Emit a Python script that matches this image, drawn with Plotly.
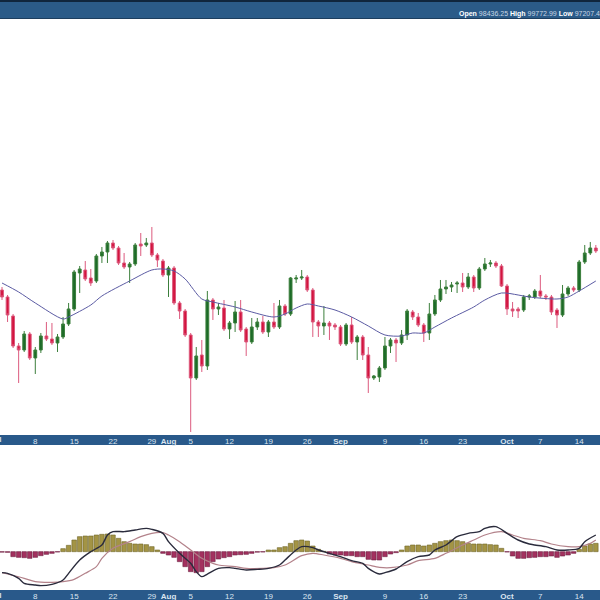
import pandas as pd
import plotly.graph_objects as go

# ---- data ----
start_date = "2024-07-02"
n_days = 108
dates = pd.date_range(start_date, periods=n_days, freq="D")

open_ = [63200, 62500, 60600, 57600, 57200, 58800, 56400, 57200, 58600, 58300,
         57900, 58500, 59800, 61300, 64900, 65200, 64400, 64100, 66600, 67000,
         67900, 67400, 65900, 65500, 65800, 67800, 67700, 67900, 66700, 66100,
         64700, 65400, 61900, 61100, 58700, 54400, 56700, 55600, 62200, 61300,
         61400, 59300, 59900, 61000, 59300, 58000, 59500, 60000, 59000, 60000,
         59500, 61600, 60800, 64300, 64400, 64500, 63200, 60000, 59600, 59900,
         59700, 59500, 57800, 59700, 58000, 58500, 56700, 54400, 54500, 55400,
         57600, 58200, 57900, 58700, 61000, 60500, 59700, 58900, 60800, 62200,
         63300, 63500, 63800, 63900, 63500, 64500, 63400, 65300, 65800, 65900,
         65600, 63600, 61300, 61300, 61200, 62500, 62500, 63100, 62600, 62500,
         61200, 60700, 62800, 63400, 63200, 66000, 66900, 67400]
high = [63500, 62700, 60800, 57900, 59100, 59000, 57500, 58900, 60000, 59900,
        58800, 60500, 61900, 65200, 65600, 66100, 65300, 66800, 67500, 68100,
        68200, 67600, 66900, 66000, 67900, 68900, 68400, 69500, 66900, 66300,
        65600, 65600, 62100, 61300, 58900, 57500, 58200, 63100, 62400, 61900,
        62200, 60100, 62100, 62200, 59500, 60400, 60400, 60600, 60200, 61900,
        62200, 61800, 64500, 64700, 65200, 64700, 63400, 60200, 61600, 60100,
        59900, 59700, 59900, 60500, 58700, 58700, 57500, 54700, 55600, 58500,
        58400, 58400, 59200, 61300, 61200, 60900, 59900, 61900, 62700, 64200,
        64200, 64000, 64100, 64900, 64900, 64700, 65500, 66400, 66200, 66100,
        65800, 63800, 62000, 61500, 62700, 62800, 63300, 64700, 62800, 62700,
        61400, 63700, 63600, 63600, 66200, 67700, 68000, 67700]
low = [62200, 60000, 57400, 53900, 57000, 56200, 54800, 56900, 58100, 57700,
       57000, 58300, 59600, 61100, 62900, 64100, 63600, 63900, 65900, 65900,
       67200, 65700, 65300, 63900, 65600, 66600, 67500, 66500, 65500, 64500,
       62500, 61700, 60300, 58500, 49000, 54200, 55000, 55200, 60200, 60700,
       59100, 58300, 59000, 59000, 56600, 57800, 59200, 58800, 58500, 59300,
       59300, 60600, 60600, 63900, 64200, 63000, 58500, 58500, 58700, 58200,
       59200, 57600, 57600, 57800, 56200, 56200, 52900, 54200, 54000, 55200,
       56900, 56000, 57700, 58200, 60200, 59500, 58000, 58200, 60600, 62000,
       62800, 63000, 62900, 63000, 63300, 63000, 63200, 65100, 65500, 65400,
       63500, 60700, 60500, 60400, 61000, 62200, 62300, 62400, 62200, 60700,
       59400, 60500, 62600, 63000, 63000, 65800, 66700, 66900]
close = [62500, 60700, 57600, 57200, 58800, 56400, 57200, 58600, 58300, 57900,
         58500, 59800, 61300, 65000, 65300, 64300, 63900, 66600, 67000, 67900,
         67400, 65900, 65500, 65800, 67700, 67600, 67900, 66700, 66200, 64700,
         65400, 61900, 61100, 58700, 54400, 56600, 55600, 62200, 61300, 61500,
         59300, 59900, 61000, 59200, 58000, 59500, 60000, 59000, 60000, 59500,
         61600, 60800, 64400, 64400, 64500, 63200, 60000, 59600, 59900, 59600,
         59500, 57800, 59700, 58000, 58500, 56700, 54400, 54600, 55400, 57600,
         58200, 57900, 58700, 61100, 60500, 59700, 58900, 60800, 62200, 63300,
         63500, 63700, 63900, 63500, 64500, 63400, 65300, 65800, 65900, 65600,
         63600, 61300, 61100, 61100, 62500, 62600, 63100, 62600, 62500, 61000,
         60700, 62800, 63400, 63200, 66000, 66900, 67400, 67100]

# 20-day moving average, read at a subset of days (day index, value)
ma_day = [0, 3, 6, 11, 12, 16, 18, 23, 27, 29, 31, 33, 36, 38, 42, 45, 49, 51,
          53, 55, 57, 60, 63, 66, 69, 72, 74, 76, 78, 81, 85, 87, 90, 93, 95,
          100, 102, 104, 107]
ma_val = [63900, 63000, 61900, 60300, 60500, 61700, 62600, 64100, 65200, 65300,
          65100, 64300, 62300, 62000, 61500, 61000, 60500, 60800, 61400, 61800,
          61600, 61200, 60500, 59600, 58700, 58600, 58900, 58900, 59500, 60400,
          61500, 62200, 62900, 62700, 62500, 62300, 62500, 63100, 64100]

# MACD line (day index, value)
macd_day = [0, 1, 3, 4, 6, 7, 9, 11, 12, 14, 16, 18, 19, 20, 22, 24, 26, 27, 29,
            30, 32, 34, 35, 36, 37, 39, 41, 42, 44, 46, 48, 50, 51, 53, 54, 56,
            57, 59, 61, 63, 65, 66, 68, 69, 71, 73, 75, 77, 78, 80, 82, 84, 86,
            87, 89, 91, 93, 95, 96, 98, 100, 102, 104, 105, 107]
macd_val = [-1260, -1300, -1600, -1900, -2000, -2040, -1960, -1700, -1300, -500,
            0, 400, 1000, 1200, 1200, 1300, 1400, 1340, 1100, 600, -100, -700,
            -1200, -1500, -1340, -1000, -960, -1000, -1100, -1060, -1000, -800,
            -500, 100, 300, 240, 100, -100, -300, -540, -700, -1000, -1340,
            -1260, -1040, -600, -300, -200, 100, 400, 900, 1100, 1200, 1400,
            1500, 1100, 700, 460, 400, 300, 100, 100, 200, 600, 1000]

# Signal line (day index, value)
sig_day = [0, 1, 4, 6, 9, 11, 13, 15, 17, 18, 20, 23, 25, 27, 29, 30, 32, 34,
           36, 38, 39, 42, 44, 47, 49, 51, 54, 56, 58, 61, 63, 66, 68, 70, 73,
           75, 78, 80, 83, 85, 87, 90, 92, 94, 97, 99, 102, 104, 106, 107]
sig_val = [-1260, -1340, -1600, -1800, -1840, -1800, -1660, -1300, -900, -400,
           200, 600, 900, 1100, 1140, 1000, 600, 100, -400, -700, -800, -900,
           -1000, -1000, -960, -800, -240, -100, -200, -400, -600, -800, -940,
           -960, -800, -540, -400, -100, 400, 700, 1000, 1200, 1000, 800, 660,
           460, 300, 300, 500, 700]

# MACD histogram, one per day
hist = [-30, -40, -300, -340, -360, -400, -340, -240, -160, -100,
        -20, 180, 380, 700, 900, 940, 940, 1000, 1040, 1060,
        1000, 800, 600, 500, 460, 460, 420, 300, 100, -100,
        -200, -340, -600, -900, -1200, -1260, -1200, -900, -600, -440,
        -360, -300, -200, -180, -160, -100, -30, -20, 100, 100,
        240, 300, 500, 660, 700, 640, 340, 140, 20, -140,
        -200, -200, -240, -240, -300, -300, -460, -500, -500, -300,
        -140, -60, 100, 340, 400, 400, 340, 400, 500, 600,
        660, 700, 660, 600, 500, 460, 460, 460, 420, 400,
        200, -20, -260, -400, -400, -360, -340, -300, -300, -260,
        -340, -260, -200, -100, 140, 340, 460, 500]

tick_dates = ["2024-07-08", "2024-07-15", "2024-07-22", "2024-07-29", "2024-08-01",
              "2024-08-05", "2024-08-12", "2024-08-19", "2024-08-26", "2024-09-01",
              "2024-09-09", "2024-09-16", "2024-09-23", "2024-10-01", "2024-10-07",
              "2024-10-14"]
tick_labels = ["8", "15", "22", "29", "<b>Aug</b>", "5", "12", "19", "26", "<b>Sep</b>",
               "9", "16", "23", "<b>Oct</b>", "7", "14"]
first_month_label = "<b>Jul</b>"

header_text = ("<b>Open</b> <span style='color:#c9d6e4'>98436.25</span> "
               "<b>High</b> <span style='color:#c9d6e4'>99772.99</span> "
               "<b>Low</b> <span style='color:#c9d6e4'>97207.42</span>")

# ---- figure ----
FONT = "Liberation Sans, Arial, sans-serif"
x_range = ["2024-07-01 15:20", "2024-10-17 18:00"]

fig = go.Figure()

fig.add_trace(go.Candlestick(
    x=dates, open=open_, high=high, low=low, close=close,
    increasing=dict(line=dict(color="#3c7f3c", width=1), fillcolor="#1c6b28"),
    decreasing=dict(line=dict(color="#dc5a7e", width=1), fillcolor="#d3143e"),
    whiskerwidth=0, xaxis="x", yaxis="y", showlegend=False, hoverinfo="skip",
))

fig.add_trace(go.Scatter(
    x=[dates[i] for i in ma_day], y=ma_val, mode="lines",
    line=dict(color="#5b5ba3", width=1, shape="spline", smoothing=0.8),
    xaxis="x", yaxis="y", showlegend=False, hoverinfo="skip",
))

fig.add_trace(go.Bar(
    x=dates, y=hist,
    marker=dict(color=["#a39445" if v >= 0 else "#a3315f" for v in hist],
                line=dict(color=["#6e6427" if v >= 0 else "#6d1e40" for v in hist],
                          width=0.6)),
    xaxis="x2", yaxis="y2", showlegend=False, hoverinfo="skip",
))

fig.add_trace(go.Scatter(
    x=[dates[i] for i in sig_day], y=sig_val, mode="lines",
    line=dict(color="#b3828a", width=1.2, shape="spline", smoothing=0.8),
    xaxis="x2", yaxis="y2", showlegend=False, hoverinfo="skip",
))
fig.add_trace(go.Scatter(
    x=[dates[i] for i in macd_day], y=macd_val, mode="lines",
    line=dict(color="#2a2b3c", width=1.4, shape="spline", smoothing=0.8),
    xaxis="x2", yaxis="y2", showlegend=False, hoverinfo="skip",
))

axis_common = dict(
    type="date", range=x_range, tickmode="array", tickvals=tick_dates,
    ticktext=tick_labels, ticks="", showgrid=False, zeroline=False,
    showline=False, automargin=False, tickangle=0,
    tickfont=dict(family=FONT, size=8, color="#dbe5f0"),
)

fig.update_layout(
    template="none",
    width=600, height=600,
    margin=dict(l=0, r=0, t=0, b=0),
    paper_bgcolor="white", plot_bgcolor="white",
    font=dict(family=FONT),
    showlegend=False,
    bargap=0.18,
    boxgap=0.28,
    xaxis=dict(domain=[0, 1], anchor="y", rangeslider=dict(visible=False), **axis_common),
    xaxis2=dict(domain=[0, 1], anchor="y2", matches="x", **axis_common),
    yaxis=dict(domain=[0.275, 0.9667], range=[48700, 90200], showticklabels=False,
               showgrid=False, zeroline=False, ticks="", automargin=False),
    yaxis2=dict(domain=[0.01667, 0.25833], range=[-2300, 6400], showticklabels=False,
                showgrid=False, zeroline=False, ticks="", automargin=False),
    shapes=[
        dict(type="rect", xref="paper", yref="paper", x0=0, x1=1, y0=0.9683, y1=1,
             fillcolor="#2b5b88", line=dict(width=0), layer="below"),
        dict(type="rect", xref="paper", yref="paper", x0=0, x1=1, y0=0.9967, y1=1,
             fillcolor="#10263d", line=dict(width=0), layer="below"),
        dict(type="rect", xref="paper", yref="paper", x0=0, x1=1, y0=0.9683, y1=0.9700,
             fillcolor="#1d3e5e", line=dict(width=0), layer="below"),
        dict(type="rect", xref="paper", yref="paper", x0=0, x1=1, y0=0.2583, y1=0.2750,
             fillcolor="#29598a", line=dict(width=0), layer="below"),
        dict(type="rect", xref="paper", yref="paper", x0=0, x1=1, y0=0.0, y1=0.01667,
             fillcolor="#29598a", line=dict(width=0), layer="below"),
    ],
    annotations=[
        dict(text=header_text, xref="paper", yref="paper", x=0.762, y=1 - 14 / 600,
             xanchor="left", yanchor="middle", showarrow=False,
             font=dict(family=FONT, size=7, color="white")),
        dict(text=first_month_label, xref="paper", yref="paper", x=-0.006, y=1 - 440 / 600,
             xanchor="center", yanchor="middle", showarrow=False,
             font=dict(family=FONT, size=8, color="#dbe5f0")),
        dict(text=first_month_label, xref="paper", yref="paper", x=-0.006, y=1 - 595 / 600,
             xanchor="center", yanchor="middle", showarrow=False,
             font=dict(family=FONT, size=8, color="#dbe5f0")),
    ],
)

fig.write_html(
    "out.html",
    config={"displayModeBar": False},
    post_script="document.body.style.margin='0';document.body.style.overflow='hidden';",
)
